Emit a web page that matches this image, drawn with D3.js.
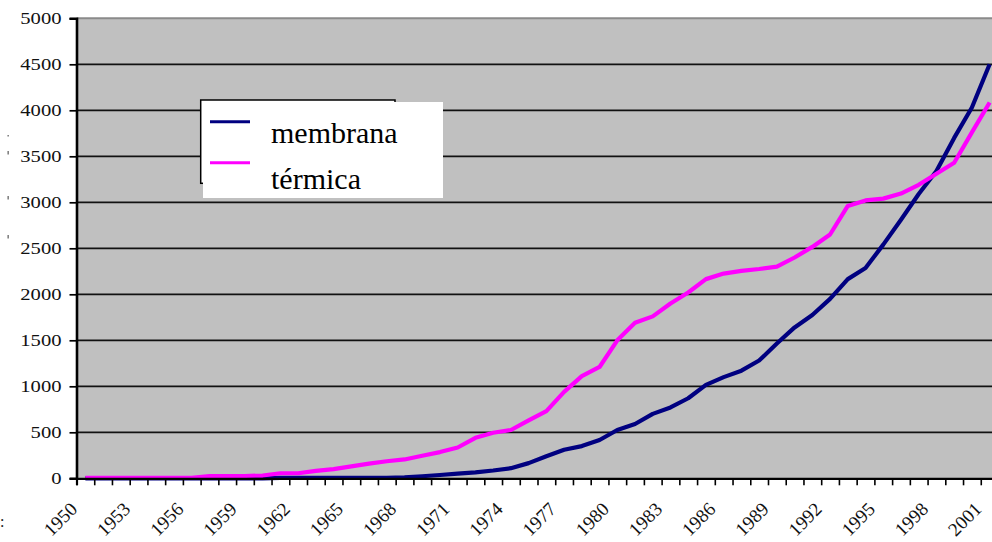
<!DOCTYPE html>
<html>
<head>
<meta charset="utf-8">
<script src="https://cdn.jsdelivr.net/npm/d3@7"></script>
<style>
  body { margin: 0; background: #fff; }
  svg { display: block; }
  svg text { font-family: "Liberation Serif", "Times New Roman", Times, "DejaVu Serif", serif; }
</style>
</head>
<body>
<svg id="chart" width="992" height="542"></svg>
<script>
// categories (years)
const years = [1950, 1951, 1952, 1953, 1954, 1955, 1956, 1957, 1958, 1959,
  1960, 1961, 1962, 1963, 1964, 1965, 1966, 1967, 1968, 1969,
  1970, 1971, 1972, 1973, 1974, 1975, 1976, 1977, 1978, 1979,
  1980, 1981, 1982, 1983, 1984, 1985, 1986, 1987, 1988, 1989,
  1990, 1991, 1992, 1993, 1994, 1995, 1996, 1997, 1998, 1999,
  2000, 2001];

// series values
const membrana = [0, 0, 0, 0, 0, 0, 0, 0, 0, 0,
  0, 5, 5, 5, 5, 5, 5, 5, 10, 22,
  36, 50, 65, 85, 110, 165, 240, 310, 350, 416,
  525, 590, 700, 770, 870, 1015, 1100, 1170, 1280, 1465,
  1640, 1775, 1950, 2165, 2285, 2540, 2810, 3090, 3340, 3700,
  4030, 4500];

const termica = [5, 5, 5, 5, 5, 5, 5, 25, 25, 25,
  30, 55, 55, 80, 100, 130, 160, 185, 205, 245,
  285, 335, 440, 495, 525, 630, 730, 940, 1110, 1210,
  1500, 1690, 1760, 1900, 2020, 2165, 2225, 2255, 2275, 2300,
  2400, 2515, 2650, 2960, 3020, 3040, 3095, 3190, 3310, 3430,
  3760, 4085];

const yTicks = [0, 500, 1000, 1500, 2000, 2500, 3000, 3500, 4000, 4500, 5000];
const labelYears = [1950, 1953, 1956, 1959, 1962, 1965, 1968, 1971, 1974, 1977,
  1980, 1983, 1986, 1989, 1992, 1995, 1998, 2001];

const series = [
  { name: "membrana", values: membrana, color: "#000080" },
  { name: "térmica", values: termica, color: "#ff00ff" }
];

const serif = '"Liberation Serif", "Times New Roman", Times, "DejaVu Serif", serif';
const plotLeft = 76.5, plotRight = 998.5, plotTop = 18.3, plotBottom = 478.3;

const svg = d3.select("#chart");

const x = d3.scaleBand()
  .domain(years)
  .range([plotLeft, plotRight]);

// index scale for the tick marks between categories
const xi = d3.scaleLinear()
  .domain([0, years.length])
  .range([plotLeft, plotRight]);

const y = d3.scaleLinear()
  .domain([0, 5000])
  .range([plotBottom, plotTop]);

// plot background
svg.append("rect")
  .attr("x", plotLeft)
  .attr("y", plotTop)
  .attr("width", plotRight - plotLeft)
  .attr("height", plotBottom - plotTop)
  .attr("fill", "#c0c0c0");

svg.append("line")
  .attr("x1", plotLeft).attr("x2", plotRight)
  .attr("y1", plotTop).attr("y2", plotTop)
  .attr("stroke", "#8a8a8a")
  .attr("stroke-width", 2);

// gridlines
svg.append("g")
  .selectAll("line")
  .data(yTicks.filter(d => d > 0 && d < 5000))
  .enter()
  .append("line")
  .attr("x1", plotLeft)
  .attr("x2", plotRight)
  .attr("y1", d => y(d))
  .attr("y2", d => y(d))
  .attr("stroke", "#111")
  .attr("stroke-width", 1.7);

// lines
const line = d3.line()
  .x((d, i) => x(years[i]) + x.bandwidth() / 2)
  .y(d => y(d));

svg.append("g")
  .selectAll("path")
  .data(series)
  .enter()
  .append("path")
  .attr("d", d => line(d.values))
  .attr("fill", "none")
  .attr("stroke", d => d.color)
  .attr("stroke-width", 4.2)
  .attr("stroke-linejoin", "round");

// x axis: tick marks between categories
svg.append("g")
  .attr("transform", "translate(0," + plotBottom + ")")
  .call(d3.axisBottom(xi).tickValues(d3.range(0, years.length + 1)).tickSize(7).tickFormat(""))
  .call(g => g.select(".domain").attr("stroke-width", 2.2).attr("stroke", "#000"))
  .call(g => g.selectAll(".tick line").attr("stroke-width", 1.6).attr("stroke", "#000"));

// x axis labels
svg.append("g")
  .attr("transform", "translate(0," + plotBottom + ")")
  .call(d3.axisBottom(x).tickValues(labelYears).tickSize(0))
  .attr("font-family", serif)
  .attr("font-size", 19)
  .call(g => g.select(".domain").remove())
  .selectAll("text")
  .attr("x", 0)
  .attr("y", 0)
  .attr("dy", 0)
  .attr("transform", "translate(-7,32)rotate(-45)")
  .style("text-anchor", "end")
  .attr("fill", "#111");

// y axis
svg.append("g")
  .attr("transform", "translate(" + plotLeft + ",0)")
  .call(d3.axisLeft(y).tickValues(yTicks).tickSize(7).tickFormat(d3.format("d")))
  .attr("font-family", serif)
  .attr("font-size", 16.5)
  .call(g => g.select(".domain").attr("stroke-width", 2.6).attr("stroke", "#000"))
  .call(g => g.selectAll(".tick line").attr("stroke-width", 1.7).attr("stroke", "#000"))
  .selectAll("text")
  .attr("x", 0)
  .attr("transform", "translate(-15,0)scale(1.25,1)")
  .attr("fill", "#111");

// legend
const legend = svg.append("g");
legend.append("rect")
  .attr("x", 200.7).attr("y", 100)
  .attr("width", 194.3).attr("height", 83.3)
  .attr("fill", "#fff")
  .attr("stroke", "#000")
  .attr("stroke-width", 1.5);
legend.append("rect")
  .attr("x", 203).attr("y", 102)
  .attr("width", 240).attr("height", 96)
  .attr("fill", "#fff");

const items = legend.selectAll(".item")
  .data(series)
  .enter()
  .append("g")
  .attr("transform", (d, i) => "translate(0," + (i * 41) + ")");
items.append("line")
  .attr("x1", 210).attr("x2", 250)
  .attr("y1", 121.7).attr("y2", 121.7)
  .attr("stroke", d => d.color)
  .attr("stroke-width", 3);
items.append("text")
  .attr("x", 271)
  .attr("y", (d, i) => i === 0 ? 142.7 : 148)
  .text(d => d.name)
  .attr("font-family", serif)
  .attr("font-size", 30)
  .attr("fill", "#000");

// remnants of the cropped axis title on the left edge
svg.append("g")
  .selectAll("rect")
  .data([137, 153, 198, 237])
  .enter()
  .append("rect")
  .attr("x", 7.5).attr("y", d => d - 2)
  .attr("width", 1.3).attr("height", d => d === 137 ? 1.5 : 3.5)
  .attr("fill", "#666");

svg.append("text")
  .attr("x", 0).attr("y", 527)
  .text(":")
  .attr("font-family", serif)
  .attr("font-size", 16)
  .attr("fill", "#222");
</script>
</body>
</html>
